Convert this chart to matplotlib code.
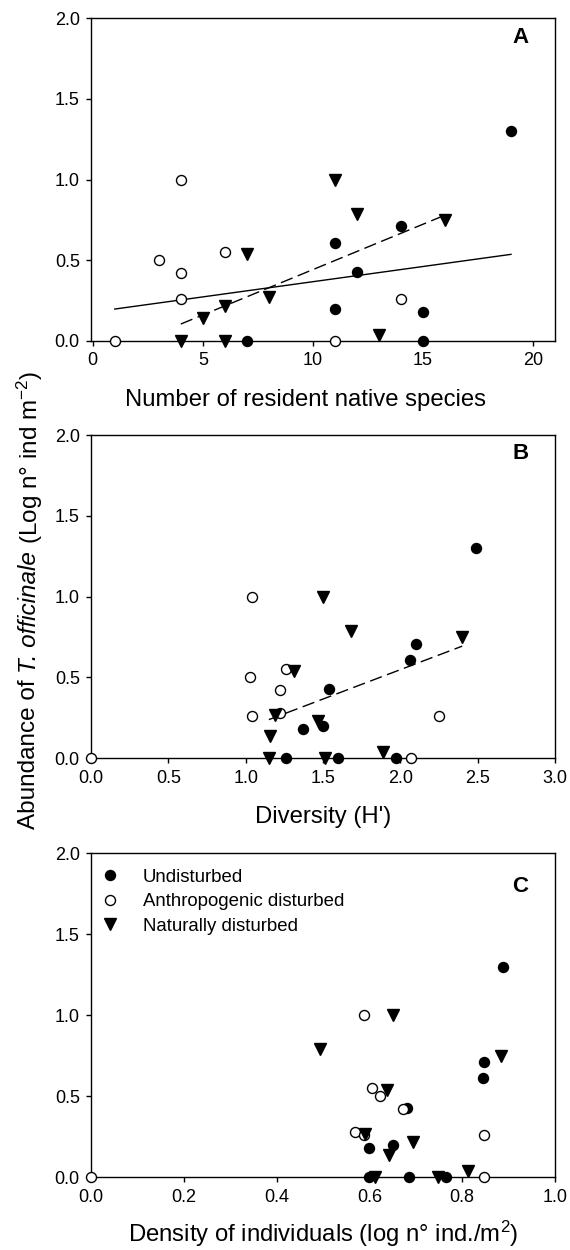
import numpy as np
import matplotlib
matplotlib.use("Agg")
import matplotlib.pyplot as plt

plt.rcParams['font.family'] = ['Liberation Sans', 'DejaVu Sans']
plt.rcParams['mathtext.fontset'] = 'custom'
plt.rcParams['mathtext.rm'] = 'Liberation Sans'
plt.rcParams['mathtext.it'] = 'Liberation Sans:italic'

# ---------------- data ----------------
groups = ["Undisturbed", "Anthropogenic disturbed", "Naturally disturbed"]

# Panel A: number of resident native species
a_und_x = [7, 11, 11, 12, 14, 15, 15, 19]
a_und_y = [0.0, 0.61, 0.20, 0.43, 0.71, 0.18, 0.0, 1.30]
a_ant_x = [1, 3, 4, 4, 4, 6, 11, 14]
a_ant_y = [0.0, 0.50, 1.00, 0.42, 0.26, 0.55, 0.0, 0.26]
a_nat_x = [4, 5, 6, 6, 7, 8, 11, 12, 13, 16]
a_nat_y = [0.0, 0.14, 0.22, 0.0, 0.54, 0.27, 1.00, 0.79, 0.04, 0.75]
a_fit_all_x = [1, 19]
a_fit_all_y = [0.198, 0.537]

# Panel B: diversity (H')
b_und_x = [1.26, 1.37, 1.50, 1.54, 1.60, 1.97, 2.06, 2.10, 2.49]
b_und_y = [0.0, 0.18, 0.20, 0.43, 0.0, 0.0, 0.61, 0.71, 1.30]
b_ant_x = [0.0, 1.04, 1.03, 1.04, 1.22, 1.26, 1.22, 2.07, 2.25]
b_ant_y = [0.0, 1.00, 0.50, 0.26, 0.42, 0.55, 0.28, 0.0, 0.26]
b_nat_x = [1.15, 1.16, 1.19, 1.31, 1.47, 1.50, 1.51, 1.68, 1.89, 2.40]
b_nat_y = [0.0, 0.14, 0.27, 0.54, 0.23, 1.00, 0.0, 0.79, 0.04, 0.75]

# Panel C: density of individuals
c_und_x = [0.60, 0.60, 0.65, 0.68, 0.685, 0.765, 0.846, 0.844, 0.887]
c_und_y = [0.18, 0.0, 0.20, 0.43, 0.0, 0.0, 0.71, 0.61, 1.30]
c_ant_x = [0.0, 0.589, 0.568, 0.588, 0.606, 0.622, 0.672, 0.847, 0.846]
c_ant_y = [0.0, 1.00, 0.28, 0.26, 0.55, 0.50, 0.42, 0.26, 0.0]
c_nat_x = [0.493, 0.59, 0.611, 0.637, 0.642, 0.651, 0.694, 0.748, 0.812, 0.884]
c_nat_y = [0.79, 0.27, 0.0, 0.54, 0.14, 1.00, 0.22, 0.0, 0.04, 0.75]

xlabels = ["Number of resident native species", "Diversity (H')",
           "Density of individuals (log n\u00b0 ind./m$^{2}$)"]
ylabel_parts = [("Abundance of", "normal"), ("T. officinale", "italic"),
                ("(Log n\u00b0 ind m$^{-2}$)", "normal")]
panel_letters = ["A", "B", "C"]
xticks_list = [[0, 5, 10, 15, 20], [0.0, 0.5, 1.0, 1.5, 2.0, 2.5, 3.0],
               [0.0, 0.2, 0.4, 0.6, 0.8, 1.0]]
xlims = [(-0.08, 21), (0, 3.0), (0, 1.0)]
yticks = [0.0, 0.5, 1.0, 1.5, 2.0]

# ---------------- figure ----------------
W, H = 570, 1250
fig = plt.figure(figsize=(W / 100, H / 100), dpi=100)

left, right = 91 / W, 555 / W
boxes = [(18.3, 341), (435, 758.3), (853.3, 1177.3)]
axes = []
for top, bot in boxes:
    ax = fig.add_axes([left, 1 - bot / H, right - left, (bot - top) / H])
    axes.append(ax)

ms = 7.2
data = [
    (a_und_x, a_und_y, a_ant_x, a_ant_y, a_nat_x, a_nat_y),
    (b_und_x, b_und_y, b_ant_x, b_ant_y, b_nat_x, b_nat_y),
    (c_und_x, c_und_y, c_ant_x, c_ant_y, c_nat_x, c_nat_y),
]
label_xc = [0.463, 0.5, 0.5]
letter_y = [0.94, 0.944, 0.896]

for i, ax in enumerate(axes):
    ux, uy, ox, oy, nx, ny = data[i]
    ax.plot(ux, uy, ls='none', marker='o', ms=ms, mfc='black', mec='black',
            mew=1.0, clip_on=False, zorder=4, label=groups[0])
    ax.plot(ox, oy, ls='none', marker='o', ms=ms, mfc='white', mec='black',
            mew=1.0, clip_on=False, zorder=4, label=groups[1])
    ax.plot(nx, ny, ls='none', marker='v', ms=ms + 0.8, mfc='black', mec='black',
            mew=1.0, clip_on=False, zorder=4, label=groups[2])

    ax.set_xlim(*xlims[i])
    ax.set_ylim(0, 2.0)
    ax.set_xticks(xticks_list[i])
    ax.set_yticks(yticks)
    ax.yaxis.set_major_formatter(matplotlib.ticker.FormatStrFormatter('%.1f'))
    if i == 0:
        ax.xaxis.set_major_formatter(matplotlib.ticker.FormatStrFormatter('%d'))
    else:
        ax.xaxis.set_major_formatter(matplotlib.ticker.FormatStrFormatter('%.1f'))
    ax.tick_params(direction='out', length=3.6, width=1.0, labelsize=13,
                   top=False, right=False, pad=4.5, colors='black')
    for sp in ax.spines.values():
        sp.set_linewidth(1.0)
    ax.set_xlabel(xlabels[i], fontsize=17.2, va='baseline')
    ax_h_px = boxes[i][1] - boxes[i][0]
    ax.xaxis.set_label_coords(label_xc[i], -65 / ax_h_px)
    ax.text(0.925, letter_y[i], panel_letters[i], transform=ax.transAxes,
            fontsize=16, fontweight='bold', ha='center', va='center')

# regression lines
axes[0].plot(a_fit_all_x, a_fit_all_y, color='black', lw=1.0, zorder=3)
for ax, nx, ny in [(axes[0], a_nat_x, a_nat_y), (axes[1], b_nat_x, b_nat_y)]:
    k, b = np.polyfit(nx, ny, 1)
    xs = np.array([min(nx), max(nx)])
    ax.plot(xs, k * xs + b, color='black', lw=1.0, ls=(0, (9, 4)), zorder=3)

# legend in panel C
axes[2].legend(loc='upper left', bbox_to_anchor=(0.021, 0.953), frameon=False,
               fontsize=13.4, handlelength=1.0, handletextpad=1.27,
               labelspacing=0.4, borderpad=0, borderaxespad=0, numpoints=1)

# shared y label built from pieces (normal / italic / normal)
fs_y = 17.5
renderer = fig.canvas.get_renderer()
x_px = 0.047 * W
space_px = fs_y * 100 / 72 * 0.278
pieces = []
for txt, style in ylabel_parts:
    t = fig.text(x_px / W, 0, txt, rotation=90, rotation_mode='anchor',
                 ha='left', va='center_baseline', fontsize=fs_y, style=style)
    ext = t.get_window_extent(renderer)
    pieces.append((t, ext.height))
total = sum(h for _, h in pieces) + space_px * (len(pieces) - 1)
y_center_px = 0.52 * H
y_cur = y_center_px - total / 2
for t, h in pieces:
    t.set_y(y_cur / H)
    y_cur += h + space_px
# shift so that the baseline column sits at x_px
fig.savefig("out.png", dpi=100)
